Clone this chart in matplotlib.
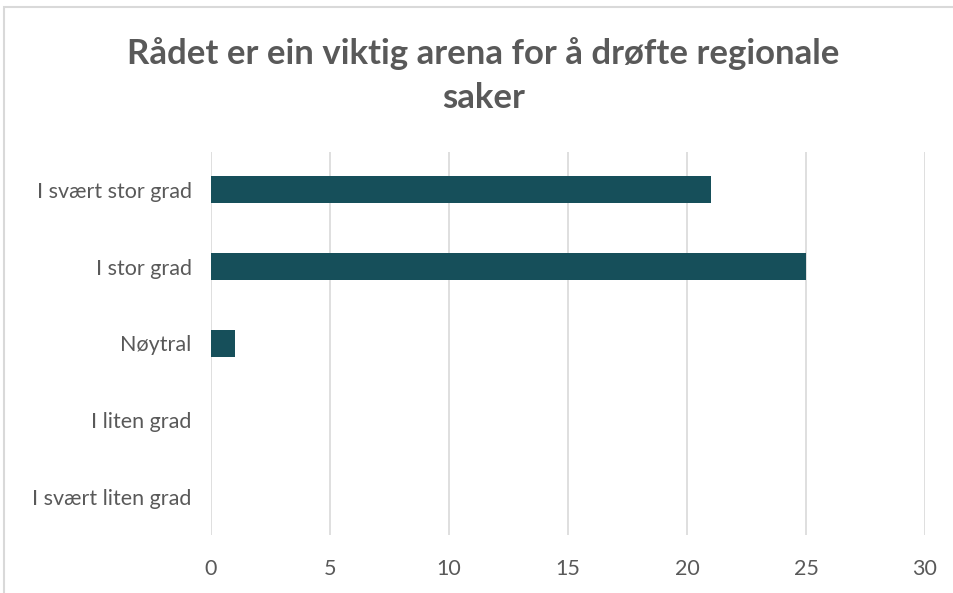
import matplotlib.pyplot as plt
from matplotlib.patches import Rectangle

categories = ['I svært stor grad', 'I stor grad', 'Nøytral', 'I liten grad', 'I svært liten grad']
values = [21, 25, 1, 0, 0]
xticks = [0, 5, 10, 15, 20, 25, 30]
title = 'Rådet er ein viktig arena for å drøfte regionale\nsaker'

plt.rcParams['font.family'] = ['Lato', 'DejaVu Sans']
grey = '#595959'

fig = plt.figure(figsize=(9.54, 5.93), dpi=100)
ax = fig.add_axes([0.2212, 0.097, 0.7484, 0.6475])

ypos = list(range(len(categories)))
ax.barh(ypos, values, height=0.35, color='#164f5a', zorder=3)
ax.set_yticks(ypos)
ax.set_yticklabels(categories)
ax.set_ylim(len(categories) - 0.5, -0.5)
ax.set_xlim(0, 30)
ax.set_xticks(xticks)
ax.grid(axis='x', color='#d9d9d9', linewidth=1.2, zorder=0)
for s in ax.spines.values():
    s.set_visible(False)
ax.tick_params(length=0, labelsize=15.5, labelcolor=grey)
ax.tick_params(axis='y', pad=14)
ax.tick_params(axis='x', pad=17)

fig.text(0.507, 0.873, title, ha='center', va='center', fontsize=25,
         fontweight='bold', color=grey, linespacing=1.45)

fig.patches.append(Rectangle((0.004, -0.01), 1.1, 0.998, transform=fig.transFigure,
                             fill=False, edgecolor='#d9d9d9', linewidth=1.5))

fig.savefig('out.png', dpi=100)
